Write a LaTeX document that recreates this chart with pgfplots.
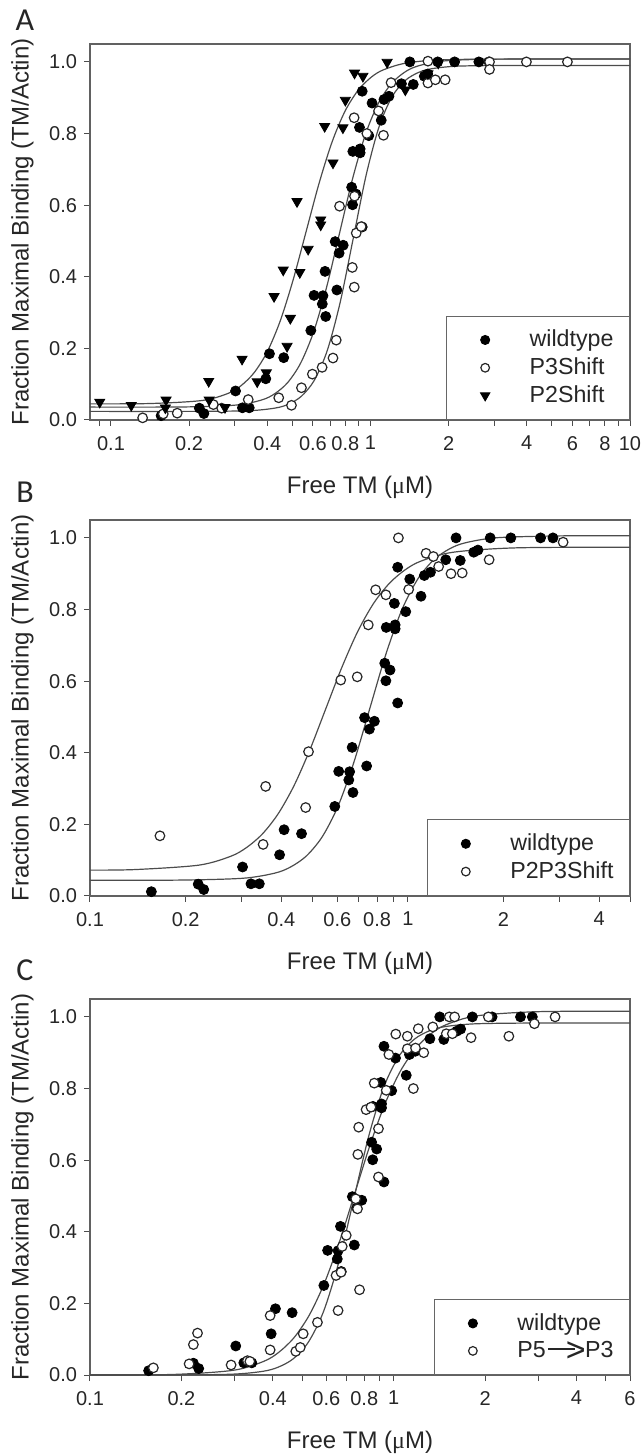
\documentclass[border=0pt]{standalone}
\usepackage{pgfplots}
\pgfplotsset{compat=1.18}
\usepackage{pgfplotstable}
\usepackage{fontspec}
\setmainfont{Liberation Sans}
\newfontfamily\letterfont{Carlito}
\newfontfamily\seriffont{Liberation Serif}

\pgfplotstableread{
x y
0.156 0.012
0.219 0.033
0.228 0.018
0.302 0.081
0.321 0.034
0.341 0.034
0.395 0.115
0.408 0.185
0.463 0.174
0.589 0.250
0.606 0.348
0.656 0.347
0.652 0.324
0.668 0.415
0.672 0.289
0.742 0.363
0.731 0.498
0.757 0.466
0.785 0.488
0.846 0.650
0.879 0.631
0.853 0.601
0.929 0.539
0.855 0.750
0.912 0.757
0.912 0.746
0.907 0.817
0.929 0.918
0.985 0.794
1.014 0.885
1.100 0.837
1.127 0.895
1.178 0.904
1.316 0.939
1.418 1.000
1.462 0.937
1.612 0.960
1.662 0.966
1.816 1.000
2.109 1.000
2.616 1.000
2.861 1.000
}\wildtype

\pgfplotstableread{
x y
0.1324 0.006
0.159 0.017
0.180 0.019
0.248 0.043
0.267 0.033
0.338 0.057
0.443 0.062
0.496 0.041
0.542 0.090
0.597 0.128
0.651 0.147
0.717 0.173
0.738 0.223
0.760 0.597
0.851 0.426
0.866 0.371
0.881 0.522
0.921 0.540
0.868 0.625
0.865 0.844
0.968 0.800
1.074 0.863
1.122 0.795
1.200 0.942
1.665 1.002
1.665 0.941
1.778 0.950
1.940 0.950
2.875 1.000
2.875 0.979
3.990 1.000
5.740 1.000
}\pthree

\pgfplotstableread{
x y
0.0905 0.050
0.1197 0.041
0.163 0.056
0.162 0.034
0.238 0.108
0.239 0.056
0.275 0.035
0.320 0.170
0.366 0.107
0.397 0.132
0.425 0.345
0.461 0.419
0.477 0.206
0.491 0.284
0.521 0.610
0.534 0.412
0.575 0.477
0.643 0.559
0.643 0.545
0.666 0.820
0.717 0.718
0.783 0.816
0.800 0.893
0.868 0.969
0.935 0.960
1.159 0.999
1.362 0.922
1.665 0.967
1.824 0.997
}\ptwo

\pgfplotstableread{
x y
0.166 0.168
0.3505 0.144
0.357 0.306
0.477 0.247
0.487 0.403
0.615 0.603
0.693 0.612
0.751 0.757
0.792 0.855
0.853 0.841
0.934 1.000
1.006 0.856
1.141 0.957
1.203 0.948
1.250 0.920
1.367 0.900
1.483 0.902
1.802 0.939
3.080 0.988
}\ptwothree

\pgfplotstableread{
x y
0.1617 0.020
0.212 0.031
0.219 0.085
0.226 0.117
0.2915 0.028
0.330 0.040
0.336 0.038
0.392 0.166
0.392 0.070
0.476 0.066
0.4925 0.077
0.5035 0.115
0.561 0.147
0.656 0.180
0.646 0.278
0.671 0.287
0.677 0.359
0.698 0.390
0.772 0.238
0.760 0.464
0.750 0.492
0.762 0.616
0.767 0.692
0.811 0.741
0.842 0.748
0.863 0.815
0.891 0.688
0.891 0.553
0.945 0.795
0.964 0.895
1.016 0.952
1.109 0.946
1.109 0.911
1.161 0.800
1.180 0.913
1.205 0.967
1.256 0.900
1.345 0.972
1.490 0.953
1.524 1.000
1.587 1.000
1.560 0.953
1.798 0.942
2.050 1.000
2.395 0.946
2.907 0.981
3.400 1.000
}\pfive

\pgfplotsset{
  legend image code/.code={%
    \path (0pt,0pt) (33pt,0pt);
    \draw[mark repeat=2,mark phase=2,#1,every mark/.append style={scale=0.9}]
      plot coordinates {(0pt,0pt) (13pt,0pt) (33pt,0pt)};},
  panel/.style={
    scale only axis, width=270pt, height=188pt,
    ymin=0, ymax=1.05,
    clip=false,
    ytick={0,0.2,0.4,0.6,0.8,1.0},
    yticklabels={0.0,0.2,0.4,0.6,0.8,1.0},
    tick pos=left, tick align=outside,
    major tick length=3pt,
    axis line style={draw=black!62, line width=0.6pt},
    tick style={draw=black!70, line width=0.5pt},
    tick label style={font=\fontsize{10}{12}\selectfont, text=black!85},
    xticklabel style={yshift=-1.5pt},
    label style={font=\fontsize{12}{14}\selectfont, text=black!85},
    xlabel={Free TM ({\seriffont μ}M)},
    ylabel={Fraction Maximal Binding (TM/Actin)},
    xlabel style={at={(axis description cs:0.5,0)}, anchor=center, yshift=-33.5pt},
    ylabel style={at={(axis description cs:-0.125,0.5)}, anchor=center},
    legend cell align=left,
    legend style={at={(1,0)}, anchor=south east, draw=black!60, line width=0.5pt,
      font=\fontsize{11.6}{13}\selectfont, inner xsep=6pt, inner ysep=5pt,
      row sep=0pt, text=black!85},
  },
  fitline/.style={no marks, smooth, draw=black!70, line width=0.6pt, forget plot},
  wt/.style={only marks, mark=*, mark size=2.5pt, mark options={fill=black, draw=black}},
  opencirc/.style={only marks, mark=*, mark size=2.4pt, mark options={fill=white, draw=black!85, line width=0.6pt}},
  tri/.style={only marks, mark=triangle*, mark size=2.9pt, mark options={fill=black, draw=black, rotate=180}},
}

\begin{document}
\begin{tikzpicture}
\useasboundingbox (0,0) rectangle (321pt,727pt);

% ---------------- Panel A ----------------
\begin{semilogxaxis}[panel, at={(45pt,517pt)}, anchor=south west,
  xmin=0.083, xmax=10,
  xtick={0.09,0.1,0.2,0.3,0.4,0.5,0.6,0.7,0.8,0.9,1,2,3,4,5,6,7,8,9,10},
  xticklabels={,0.1,0.2,,0.4,,0.6,,0.8,,1,2,,4,,6,,8,,10}]
\addplot[fitline] coordinates {(0.083,0.036) (0.191,0.0364) (0.3026,0.0416) (0.3809,0.0559) (0.4273,0.0732) (0.4796,0.1045) (0.538,0.1588) (0.6037,0.2459) (0.6774,0.3707) (0.76,0.522) (0.8527,0.6733) (0.9568,0.7981) (1.0735,0.8852) (1.2045,0.9395) (1.3515,0.9708) (1.5164,0.9881) (1.909,1.0025) (3.0256,1.0076) (10,1.008)};
\addplot[fitline] coordinates {(0.083,0.024) (0.2155,0.0241) (0.3416,0.026) (0.43,0.0334) (0.4825,0.044) (0.5414,0.0662) (0.6074,0.1108) (0.6815,0.1941) (0.7647,0.3294) (0.858,0.507) (0.9627,0.6846) (1.0801,0.8199) (1.2119,0.9032) (1.3598,0.9478) (1.5258,0.970) (1.712,0.9806) (2.1552,0.988) (3.4157,0.9899) (10,0.99)};
\addplot[fitline] coordinates {(0.083,0.045) (0.1419,0.046) (0.2249,0.0545) (0.2832,0.0745) (0.3177,0.0963) (0.3565,0.1325) (0.40,0.1904) (0.4488,0.2764) (0.5036,0.3917) (0.565,0.5265) (0.6339,0.6613) (0.7113,0.7766) (0.7981,0.8626) (0.8955,0.9205) (1.0047,0.9568) (1.1273,0.9785) (1.4192,0.9984) (2.2493,1.007) (10,1.008)};
\addplot[wt] table {\wildtype};
\addlegendentry{wildtype}
\addplot[opencirc] table {\pthree};
\addlegendentry{P3Shift}
\addplot[tri] table {\ptwo};
\addlegendentry{P2Shift}
\end{semilogxaxis}

% ---------------- Panel B ----------------
\begin{semilogxaxis}[panel, at={(45pt,279pt)}, anchor=south west,
  xmin=0.1, xmax=5,
  xtick={0.1,0.2,0.3,0.4,0.5,0.6,0.7,0.8,0.9,1,2,3,4,5},
  xticklabels={0.1,0.2,,0.4,,0.6,,0.8,,1,2,,4,}]
\addplot[fitline] coordinates {(0.1,0.044) (0.191,0.0444) (0.3026,0.0495) (0.3809,0.0637) (0.4273,0.0808) (0.4796,0.1118) (0.538,0.1655) (0.6037,0.2517) (0.6774,0.3752) (0.76,0.525) (0.8527,0.6748) (0.9568,0.7983) (1.0735,0.8845) (1.2045,0.9382) (1.3515,0.9692) (1.5164,0.9863) (1.909,1.0005) (3.0256,1.0056) (5,1.006)};
\addplot[fitline] coordinates {(0.1,0.0722) (0.1387,0.0738) (0.2198,0.0861) (0.2767,0.1106) (0.3104,0.1349) (0.3483,0.1728) (0.3908,0.2294) (0.4385,0.3082) (0.492,0.4087) (0.552,0.523) (0.6193,0.6373) (0.6949,0.7378) (0.7797,0.8166) (0.8749,0.8732) (0.9816,0.9111) (1.1014,0.9354) (1.3866,0.9599) (2.1975,0.9722) (5,0.974)};
\addplot[wt] table {\wildtype};
\addlegendentry{wildtype}
\addplot[opencirc] table {\ptwothree};
\addlegendentry{P2P3Shift}
\end{semilogxaxis}

% ---------------- Panel C ----------------
\begin{semilogxaxis}[panel, at={(45pt,39.5pt)}, anchor=south west,
  xmin=0.1, xmax=6,
  xtick={0.1,0.2,0.3,0.4,0.5,0.6,0.7,0.8,0.9,1,2,3,4,5,6},
  xticklabels={0.1,0.2,,0.4,,0.6,,0.8,,1,2,,4,,6}]
\addplot[fitline] coordinates {(0.1,0.0001) (0.1871,0.0015) (0.2966,0.0132) (0.3734,0.0381) (0.4189,0.0637) (0.4701,0.1046) (0.5274,0.1673) (0.5918,0.2572) (0.664,0.3738) (0.745,0.508) (0.8359,0.6422) (0.9379,0.7589) (1.0523,0.8487) (1.1808,0.9114) (1.3248,0.9523) (1.4865,0.978) (1.8714,1.0028) (2.9658,1.0145) (6,1.016)};
\addplot[fitline] coordinates {(0.1,0) (0.1856,0.0001) (0.2942,0.0023) (0.3704,0.0102) (0.4155,0.0215) (0.4663,0.0449) (0.5231,0.0912) (0.587,0.1764) (0.6587,0.3133) (0.739,0.4915) (0.8292,0.6697) (0.9303,0.8066) (1.0438,0.8918) (1.1712,0.9381) (1.3142,0.9615) (1.4745,0.9728) (1.8563,0.9807) (2.942,0.9829) (6,0.983)};
\addplot[wt] table {\wildtype};
\addlegendentry{wildtype}
\addplot[opencirc] table {\pfive};
\addlegendentry{P5\kern0.1em\rule[3.6pt]{13.5pt}{1.1pt}\kern-4.6pt\raisebox{-1.9pt}{\fontsize{17}{17}\selectfont >}\kern-0.3pt P3}
\end{semilogxaxis}

\node[font=\letterfont\fontsize{16}{16}\selectfont, text=black!85] at (12.5pt,717pt) {A};
\node[font=\letterfont\fontsize{16}{16}\selectfont, text=black!85] at (12.5pt,481pt) {B};
\node[font=\letterfont\fontsize{16}{16}\selectfont, text=black!85] at (12.5pt,242pt) {C};
\end{tikzpicture}
\end{document}
